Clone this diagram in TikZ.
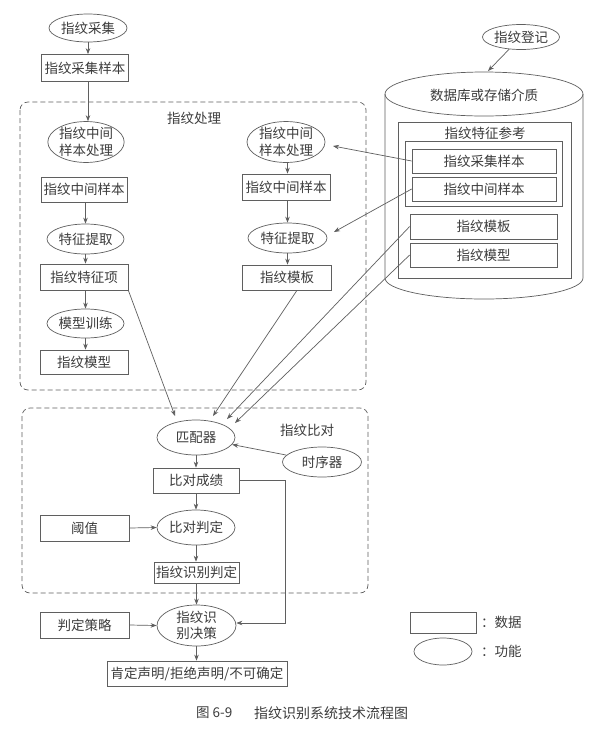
\documentclass[tikz,border=0pt]{standalone}
\usepackage{fontspec}
\newfontfamily\cjk{Noto Sans CJK SC}
\usetikzlibrary{shapes.geometric,arrows.meta,calc}
\definecolor{ln}{RGB}{95,95,95}
\definecolor{tx}{RGB}{60,60,60}
\tikzset{
  every node/.style={font=\cjk\fontsize{13.5}{16.5}\selectfont, text=tx, inner sep=0pt},
  databox/.style={draw=ln, line width=0.7pt, rectangle, inner sep=0pt},
  funcell/.style={draw=ln, line width=0.7pt, ellipse, inner sep=0pt, align=center},
  flow/.style={draw=ln, line width=0.7pt, -{Stealth[length=6pt,width=4.5pt]}},
  conn/.style={draw=ln, line width=0.7pt},
  group/.style={draw=ln, line width=0.7pt, dash pattern=on 5pt off 3pt, rounded corners=8pt},
}
\begin{document}
\begin{tikzpicture}[x=1pt,y=-1pt]
\fill[white] (0,0) rectangle (611,729);
\useasboundingbox (0,0) rectangle (611,729);

% groups
\draw[group] (20,102) rectangle (366,390);
\node (lblproc) at (194,118) {指纹处理};
\draw[group] (22,408) rectangle (368,593);
\node (lblcmp) at (307,430) {指纹比对};

% top left
\node[funcell, minimum width=78pt, minimum height=28pt] (cj) at (88,28) {指纹采集};
\node[databox, minimum width=87pt, minimum height=27pt] (cjyb) at (85,68) {指纹采集样本};

% left column
\node[funcell, minimum width=76pt, minimum height=33pt] (zjcl) at (86,142) {指纹中间\\样本处理};
\node[databox, minimum width=86pt, minimum height=25pt] (zjyb) at (84,189.5) {指纹中间样本};
\node[funcell, minimum width=77pt, minimum height=30pt] (tz) at (85.5,239) {特征提取};
\node[databox, minimum width=88pt, minimum height=26pt] (tzx) at (84,277) {指纹特征项};
\node[funcell, minimum width=77pt, minimum height=29pt] (mx) at (85.5,323.5) {模型训练};
\node[databox, minimum width=88pt, minimum height=24pt] (mxm) at (84,362) {指纹模型};

% right column
\node[funcell, minimum width=78pt, minimum height=32pt] (zjcl2) at (286,142) {指纹中间\\样本处理};
\node[databox, minimum width=88pt, minimum height=26pt] (zjyb2) at (286,187) {指纹中间样本};
\node[funcell, minimum width=79pt, minimum height=30pt] (tz2) at (287.5,238) {特征提取};
\node[databox, minimum width=89pt, minimum height=25pt] (mb) at (287,277.5) {指纹模板};

% database cylinder
\draw[conn] (484,94) ellipse [x radius=99pt, y radius=22pt];
\draw[conn] (385,94) -- (385,278) arc[start angle=180, end angle=360, x radius=99pt, y radius=21pt] -- (583,94);
\node (dbl) at (484,95) {数据库或存储介质};
\draw[conn] (398,122) rectangle (571,278);
\node (refl) at (485,133) {指纹特征参考};
\draw[conn] (405,141) rectangle (562,206);
\node[databox, minimum width=144pt, minimum height=24pt] (r1) at (484,161) {指纹采集样本};
\node[databox, minimum width=144pt, minimum height=24pt] (r2) at (484,189) {指纹中间样本};
\node[databox, minimum width=147pt, minimum height=25pt] (r3) at (483.5,226.5) {指纹模板};
\node[databox, minimum width=147pt, minimum height=24pt] (r4) at (483.5,255) {指纹模型};
\node[funcell, minimum width=77pt, minimum height=25pt] (dj) at (521,37) {指纹登记};
\coordinate (cyltop) at (488,71);

% comparison
\node[funcell, minimum width=78pt, minimum height=35pt] (ppq) at (196,437.5) {匹配器};
\node[funcell, minimum width=79pt, minimum height=30pt] (sxq) at (322,462) {时序器};
\node[databox, minimum width=86pt, minimum height=25pt] (cj2) at (196,480.5) {比对成绩};
\node[funcell, minimum width=78pt, minimum height=35pt] (pd) at (196,527.5) {比对判定};
\node[databox, minimum width=89pt, minimum height=26pt] (yz) at (84.5,528) {阈值};
\node[databox, minimum width=85pt, minimum height=21pt] (sb) at (196.5,572.5) {指纹识别判定};

% decision
\node[funcell, minimum width=79pt, minimum height=35pt] (jc) at (196.5,625.5) {指纹识\\别决策};
\node[databox, minimum width=89pt, minimum height=26pt] (cl) at (84.5,625) {判定策略};
\node[databox, minimum width=180pt, minimum height=25pt] (res) at (197,673.5) {肯定声明/拒绝声明/不可确定};

% legend
\node[databox, minimum width=66pt, minimum height=21pt] (lr) at (443,622.5) {};
\node[funcell, minimum width=58pt, minimum height=27pt] (le) at (443,651.5) {};
\node[anchor=west] (lrt) at (481,622) {：数据};
\node[anchor=west] (let) at (481,651) {：功能};

% caption
\node[anchor=west, font=\cjk\fontsize{13.5}{16}\selectfont] (cap1) at (196,713) {图 6-9};
\node[anchor=west, font=\cjk\fontsize{14}{16}\selectfont] (cap2) at (254,713) {指纹识别系统技术流程图};

% arrows
\draw[flow] (cj.south) -- (cj.south |- cjyb.north);
\draw[flow] (cj.south |- cjyb.south) -- (cj.south |- zjcl.north);
\draw[flow] (tz.north |- zjyb.south) -- (tz.north);
\draw[flow] (tz.south) -- (tz.south |- tzx.north);
\draw[flow] (mx.north |- tzx.south) -- (mx.north);
\draw[flow] (mx.south) -- (mx.south |- mxm.north);

\draw[flow] (tz2.north |- zjcl2.south) -- (tz2.north |- zjyb2.north);
\draw[flow] (tz2.north |- zjyb2.south) -- (tz2.north);
\draw[flow] (tz2.south) -- (tz2.south |- mb.north);

\draw[flow] (dj) -- (cyltop);

\coordinate (a1) at (333,146);
\coordinate (a2) at (334,232);
\draw[flow] (r1.west) -- (a1);
\draw[flow] (r2.west) -- (a2);

\coordinate (m1) at (175,416);
\coordinate (m2) at (213,416);
\coordinate (m3) at (227,419);
\coordinate (m4) at (235,423);
\draw[flow] (tzx.south east) -- (m1);
\draw[flow] ([xshift=10pt]mb.south) -- (m2);
\draw[flow] (r3.west) -- (m3);
\draw[flow] (r4.west) -- (m4);

\draw[flow] (sxq) -- (ppq);
\draw[flow] (ppq.south) -- (ppq.south |- cj2.north);
\draw[flow] (pd.north |- cj2.south) -- (pd.north);
\draw[flow] (yz.east) -- (pd.west);
\draw[flow] (pd.south) -- (pd.south |- sb.north);
\draw[flow] (jc.north |- sb.south) -- (jc.north);
\draw[flow] (cl.east) -- (jc.west);
\draw[flow] (jc.south) -- (jc.south |- res.north);

\coordinate (fb) at (285,623);
\draw[flow] (cj2.east) -| (fb) -- (jc.east |- fb);
\end{tikzpicture}
\end{document}
